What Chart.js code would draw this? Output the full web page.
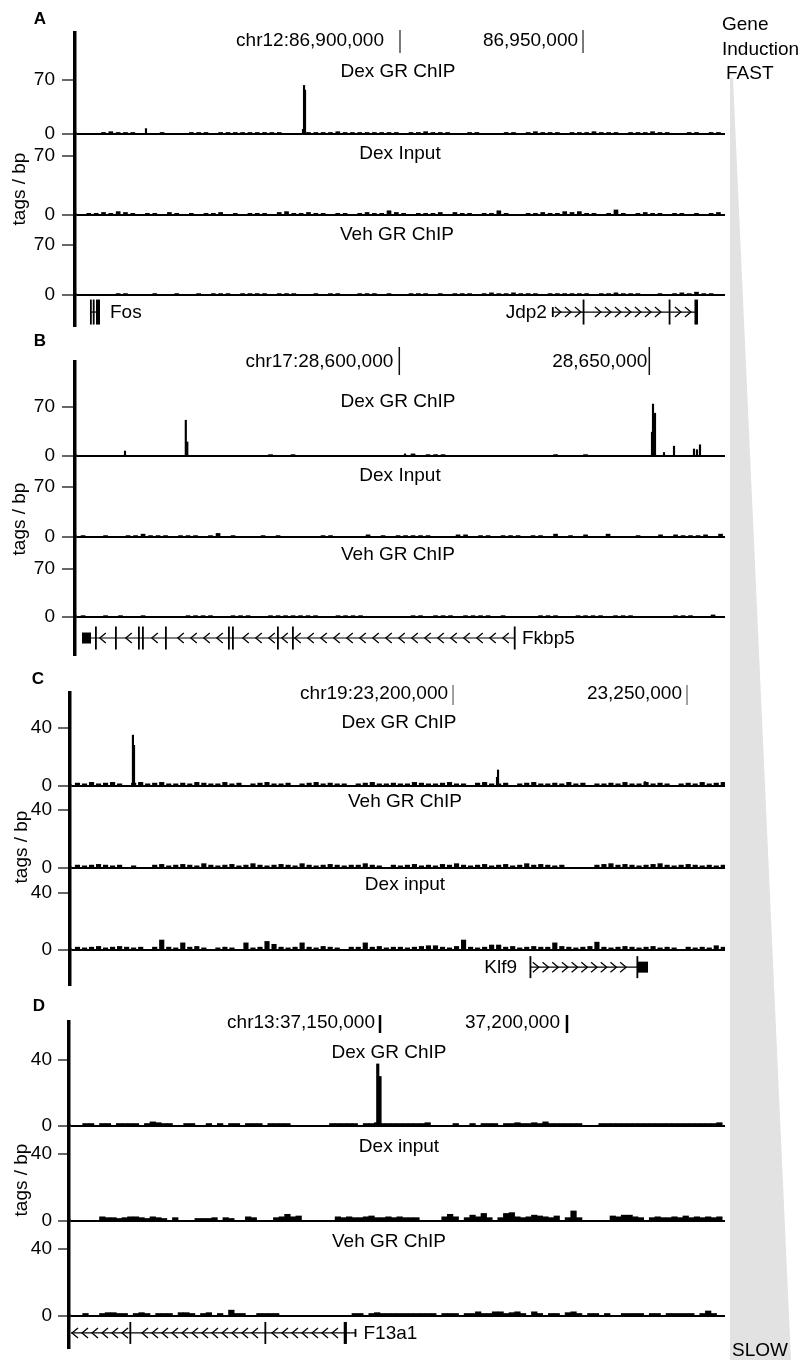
<!DOCTYPE html>
<html><head><meta charset="utf-8">
<script src="https://cdn.jsdelivr.net/npm/chart.js@4.4.1/dist/chart.umd.min.js"></script>
<style>
html,body{margin:0;padding:0;background:#fff;}
body{position:relative;width:804px;height:1360px;overflow:hidden;font-family:"Liberation Sans",Arial,sans-serif;color:#000;}
canvas{position:absolute;z-index:1;}
svg{position:absolute;left:0;top:0;z-index:0;}
.t{position:absolute;z-index:2;font-size:19px;line-height:19px;white-space:nowrap;transform:translate(-50%,-50%);}
.l{position:absolute;z-index:2;font-size:19px;line-height:19px;white-space:nowrap;transform:translate(0,-50%);}
.p{position:absolute;z-index:2;font-size:17px;font-weight:bold;line-height:17px;transform:translate(-50%,-50%);}
.yl{position:absolute;z-index:2;font-size:19px;line-height:19px;white-space:nowrap;transform:translate(-50%,-50%) rotate(-90deg);}
</style></head><body>
<svg width="804" height="1360"><polygon points="730,78 733,78 791,1360 730,1360" fill="#e2e2e2"/></svg>
<script>
// ================= DATA =================
// ---- Panel A : chr12 (Fos, Jdp2) ----
const A_trackNames = ['Dex GR ChIP', 'Dex Input', 'Veh GR ChIP'];
const A_yTicks = [0, 70];
const A_coordTicks = [86900000, 86950000];
const A_coordLabels = ['chr12:86,900,000', '86,950,000'];
const A_binStart = 86812000;
const A_binSize = 2000;
const A_dexGR = [0,0,0,2,3,2,2,2,0,0, 0,2,0,0,0,2,2,2,0,2, 2,2,2,2,2,2,2,2,0,0, 0,2,2,2,2,3,2,2,2,2, 2,2,2,2,0,2,2,3,2,2, 2,0,0,2,2,0,0,0,2,2, 0,2,3,2,2,2,0,2,2,2, 3,2,2,2,0,2,2,2,3,2, 2,0,0,2,2,0,2,2];
const A_dexInput = [0,2,2,3,2,4,3,2,0,2, 2,0,3,2,0,2,0,2,2,3, 0,2,0,2,2,2,0,3,4,2, 2,3,2,2,0,2,2,0,2,3, 2,2,5,3,2,0,2,2,2,3, 0,3,2,2,0,2,2,5,2,0, 0,2,2,3,2,2,4,3,4,2, 2,0,2,6,2,0,2,3,2,2, 0,2,2,0,2,0,2,3];
const A_vehGR = [0,0,0,0,0,2,2,0,0,0, 2,0,0,2,0,0,2,0,2,2, 2,0,2,2,2,2,0,2,2,2, 0,0,2,0,2,2,0,0,2,2, 2,0,2,0,0,2,2,2,0,2, 0,2,2,2,0,2,3,2,2,3, 2,2,2,0,2,2,2,2,2,2, 0,2,2,3,2,2,2,0,0,2, 0,2,3,2,4,2,2,0];
const A_dexGRPeaks = [[86830600, 7], [86873500, 6], [86873780, 63], [86874050, 57]];
const A_dexInputPeaks = [];
const A_vehGRPeaks = [];
const A_genes = [
  {name: 'Fos', strand: '+', start: 86815300, end: 86818040,
   exons: [[86815300, 86815580, 'e'], [86816070, 86816340, 'e'], [86816950, 86818040, 'e']]},
  {name: 'Jdp2', strand: '+', start: 86941500, end: 86981410,
   exons: [[86941500, 86941780, 'u'], [86949900, 86950180, 'e'], [86973400, 86973680, 'e'], [86980450, 86981410, 'e']]}
];

// ---- Panel B : chr17 (Fkbp5) ----
const B_trackNames = ['Dex GR ChIP', 'Dex Input', 'Veh GR ChIP'];
const B_yTicks = [0, 70];
const B_coordTicks = [28600000, 28650000];
const B_coordLabels = ['chr17:28,600,000', '28,650,000'];
const B_binStart = 28536000;
const B_binSize = 1500;
const B_dexGR = [0,0,0,0,0,0,0,0,0,0, 0,0,0,0,0,0,0,0,0,0, 0,0,0,0,0,2,0,0,2,0, 0,0,0,0,0,0,0,0,0,0, 0,0,0,0,3,0,2,2,2,0, 0,0,0,0,0,0,0,0,0,0, 0,0,0,2,0,0,0,2,0,0, 0,0,0,0,0,0,0,0,0,0, 0,0,0,0,0,0];
const B_dexInput = [2,0,0,2,0,0,2,2,4,2, 2,2,0,2,2,2,0,2,5,0, 2,0,0,0,2,0,2,0,0,0, 0,0,2,2,0,0,0,0,3,0, 2,0,2,2,2,2,2,0,0,0, 3,3,0,2,2,0,2,2,2,0, 2,2,0,4,0,2,0,3,0,0, 4,0,0,0,2,0,0,3,0,3, 2,2,2,3,0,4];
const B_vehGR = [2,0,0,2,0,2,0,0,2,0, 0,0,0,0,2,2,2,2,0,0, 2,2,2,0,0,2,2,2,2,2, 2,2,0,0,2,2,2,2,0,0, 0,0,0,0,2,2,0,2,2,2, 0,2,2,2,2,0,2,0,0,0, 0,2,2,2,0,0,2,2,2,2, 0,2,2,2,0,0,0,0,0,2, 2,2,0,0,3,0];
const B_dexGRPeaks = [[28545140, 7], [28557300, 51], [28557600, 20], [28601140, 3], [28650540, 34], [28650740, 74], [28651140, 61], [28652940, 5], [28654940, 14], [28658940, 10], [28659540, 9], [28660140, 16]];
const B_dexInputPeaks = [];
const B_vehGRPeaks = [];
const B_genes = [
  {name: 'Fkbp5', strand: '-', start: 28536540, end: 28623140,
   exons: [[28536540, 28538340, 'u'], [28539140, 28539440, 'e'], [28543140, 28543440, 'e'], [28547740, 28548040, 'e'], [28548540, 28548840, 'e'], [28553140, 28553440, 'e'], [28565740, 28566040, 'e'], [28566540, 28566840, 'e'], [28575540, 28575840, 'e'], [28578540, 28578840, 'e'], [28622900, 28623200, 'e']]}
];

// ---- Panel C : chr19 (Klf9) ----
const C_trackNames = ['Dex GR ChIP', 'Veh GR ChIP', 'Dex input'];
const C_yTicks = [0, 40];
const C_coordTicks = [23200000, 23250000];
const C_coordLabels = ['chr19:23,200,000', '23,250,000'];
const C_binStart = 23119000;
const C_binSize = 1500;
const C_dexGR = [2,1.5,2.5,1.5,2,2.5,1.5,0,2,2.5, 1.5,2,2.5,1.5,1.5,2,1.5,2.5,2,1.5, 1.5,2.5,1.5,2,0,1.5,2,2.5,1.5,1.5, 2,0,1.5,2,2.5,1.5,2,1.5,1.5,0, 1.5,2,2.5,1.5,1.5,2,1.5,1.5,2.5,2, 1.5,1.5,2,2.5,1.5,1.5,0,2,2.5,1.5, 1.5,2,0,1.5,2,2.5,1.5,1.5,2,1.5, 2.5,1.5,2,0,1.5,1.5,2,1.5,2.5,1.5, 1.5,2.5,1.5,2,1.5,0,1.5,2,1.5,2.5, 1.5,2,2.5];
const C_vehGR = [2,1.5,2,2.5,2,1.5,2,0,1.5,0, 0,2,2.5,1.5,2,2.5,2,1.5,3,2, 1.5,2,2.5,1.5,2,3,2,1.5,2,2.5, 2,1.5,3,2,1.5,2,2.5,2,1.5,2, 2,3,2,1.5,0,2,1.5,2,2.5,1.5, 2,1.5,2.5,2,3,2,1.5,2,2.5,1.5, 2,2.5,1.5,2,3,2,2.5,2,1.5,2, 0,0,0,0,2,2.5,3,2,2.5,2, 1.5,2,2.5,3,2,1.5,2,2.5,2,1.5, 2,1.5,2];
const C_dexInput = [2,1.5,2,2.5,1.5,2,2.5,2,1.5,2, 0,2,7,2,1.5,5,2,2.5,1.5,0, 1.5,2,1.5,0,5,1.5,2,6,4,2, 1.5,2,5,2,1.5,2.5,2,1.5,0,2, 2,5,2,2.5,1.5,2,2,1.5,2,2.5, 3,3,2,1.5,2.5,7,2,1.5,2,3.5, 3.5,2,2.5,1.5,2,2.5,2,2,5,2.5, 2,1.5,2,2.5,5.5,2,1.5,2,2.5,2, 1.5,2,2.5,1.5,2,1.5,0,2,1.5,2, 1.5,3,2];
const C_dexGRPeaks = [[23131600, 35], [23131830, 28], [23209400, 6], [23209620, 11], [23241030, 3]];
const C_vehGRPeaks = [];
const C_dexInputPeaks = [];
const C_genes = [
  {name: 'Klf9', strand: '+', start: 23216450, end: 23241670,
   exons: [[23216350, 23216700, 'e'], [23239200, 23239500, 'e'], [23239400, 23241670, 'u']]}
];

// ---- Panel D : chr13 (F13a1) ----
const D_trackNames = ['Dex GR ChIP', 'Dex input', 'Veh GR ChIP'];
const D_yTicks = [0, 40];
const D_coordTicks = [37150000, 37200000];
const D_coordLabels = ['chr13:37,150,000', '37,200,000'];
const D_binStart = 37067500;
const D_binSize = 1500;
const D_dexGR = [0,0,1.5,1.5,0,1.5,1.5,0,1.5,1.5, 1.5,1.5,0,1.5,2.5,2,1.5,1.5,0,0, 1.5,1.5,0,0,1.5,0,1.5,0,1.5,1.5, 0,1.5,1.5,1.5,0,1.5,1.5,1.5,1.5,0, 0,0,0,0,0,0,1.5,1.5,1.5,1.5, 1.5,0,1.5,1.5,2,1.5,1.5,1.5,1.5,1.5, 1.5,1.5,1.5,2,0,0,0,0,1.5,0, 0,1.5,0,1.5,1.5,1.5,0,1.5,1.5,2, 1.5,1.5,2,1.5,2.5,1.5,1.5,1.5,1.5,1.5, 1.5,0,0,0,1.5,1.5,1.5,1.5,1.5,1.5, 1.5,1.5,1.5,1.5,1.5,1.5,1.5,1.5,1.5,1.5, 1.5,1.5,1.5,1.5,1.5,2];
const D_dexInput = [0,0,0,0,0,2.5,2,2,1.5,2, 2.5,2.5,2,1.5,2.5,2,1.5,0,2,0, 0,0,1.5,1.5,1.5,2,0,2,1.5,0, 0,2.5,2,0,0,0,2,2.5,4,2.5, 3,0,0,0,0,0,0,2.5,2,2.5, 2,2,2.5,3,2,2,2.5,2,2.5,2, 2,2,0,0,0,0,2.5,4,2.5,0, 2,3.5,2.5,4.5,2,0,2,4.5,5,2.5, 2,2.5,3.5,3,2.5,2,3,0,2,6, 2,0,0,0,0,0,3,2.5,3.5,3.5, 2.5,2,0,2,2.5,2,2,2.5,2,3, 2,2.5,2,2.5,2,2.5];
const D_vehGR = [0,0,1.5,0,0,1.5,2,2,1.5,1.5, 0,1.5,2,1.5,0,1.5,1.5,1.5,0,2, 2,1.5,0,1.5,2,0,1.5,0,3.5,1.5, 1.5,0,0,1.5,1.5,1.5,1.5,0,0,0, 0,0,0,0,0,0,0,0,0,0, 1.5,1.5,0,1.5,2,1.5,1.5,1.5,1.5,1.5, 1.5,1.5,1.5,1.5,1.5,0,1.5,1.5,1.5,0, 1.5,1.5,2.5,1.5,1.5,2.5,2.5,1.5,2,2.5, 1.5,0,2.5,1.5,0,1.5,1.5,0,2,2.5, 1.5,0,1.5,1.5,0,1.5,0,0,1.5,1.5, 1.5,1.5,0,1.5,1.5,0,1.5,1.5,1.5,1.5, 1.5,0,1.5,3,1.5,0];
const D_dexGRPeaks = [[37149400, 37.6], [37150000, 30]];
const D_dexInputPeaks = [];
const D_vehGRPeaks = [];
const D_genes = [
  {name: 'F13a1', strand: '-', start: 37050000, end: 37143450,
   exons: [[37083000, 37083350, 'e'], [37119100, 37119450, 'e'], [37140300, 37141150, 'e'], [37143200, 37143450, 'u']]}
];

// ================= LAYOUT / STYLE =================
const FONT = '"Liberation Sans", Arial, sans-serif';
const layoutA = {letter:'A', letterPos:[40,18], axisX:75, right:725, xRange:[86811210,86988790],
  tracks:[[33,134,131],[134,215,96],[215,295,112]], gene:[295,326], rowFrac:0.45, eH:25, uH:10, chev:10,
  tickLen:13, tickPad:7, head:{y:41,l1:30,l2:53,lw:1.2,color:'#222',gaps:[16,5]},
  labels:[[398,70],[400,152],[397,233]], ylab:[18,189], binPx:4, peakPx:1.5, geneSide:['right','left'], geneGap:[10,5]};
const layoutB = {letter:'B', letterPos:[40,340], axisX:75, right:725, xRange:[28535140,28665140],
  tracks:[[362,456,134],[456,537,113],[537,617,117]], gene:[617,655], rowFrac:0.447, eH:23, uH:11, chev:13,
  tickLen:13, tickPad:7, head:{y:362,l1:347,l2:375,lw:1.5,color:'#111',gaps:[6,2]},
  labels:[[398,400],[400,474],[398,553]], ylab:[18,519], binPx:4, peakPx:1.5, geneSide:['right'], geneGap:[7]};
const layoutC = {letter:'C', letterPos:[38,678], axisX:70, right:725, xRange:[23118150,23258120],
  tracks:[[693,786,64],[786,868,56.6],[868,950,57.5]], gene:[950,985], rowFrac:0.51, eH:22, uH:11, chev:9.7,
  tickLen:12, tickPad:6, head:{y:694,l1:685,l2:705,lw:1,color:'#444',gaps:[5,5]},
  labels:[[399,721],[405,800],[405,883]], ylab:[20,847], binPx:4.5, peakPx:1.5, geneSide:['left'], geneGap:[13]};
const layoutD = {letter:'D', letterPos:[39,1005], axisX:69, right:725, xRange:[37066840,37242250],
  tracks:[[1022,1126,63],[1126,1221,56.7],[1221,1316,56.7]], gene:[1316,1348], rowFrac:0.47, eH:22, uH:8, chev:10,
  tickLen:11, tickPad:6, head:{y:1023,l1:1015,l2:1033,lw:2.5,color:'#000',gaps:[5,7]},
  labels:[[389,1051],[399,1145],[389,1240]], ylab:[20,1180], binPx:5.6, peakPx:2.5, geneSide:['right'], geneGap:[8]};

const PANELS = [
  {L: layoutA, names: A_trackNames, yTicks: A_yTicks, coordTicks: A_coordTicks, coordLabels: A_coordLabels,
   binStart: A_binStart, binSize: A_binSize, series: [[A_dexGR, A_dexGRPeaks], [A_dexInput, A_dexInputPeaks], [A_vehGR, A_vehGRPeaks]], genes: A_genes},
  {L: layoutB, names: B_trackNames, yTicks: B_yTicks, coordTicks: B_coordTicks, coordLabels: B_coordLabels,
   binStart: B_binStart, binSize: B_binSize, series: [[B_dexGR, B_dexGRPeaks], [B_dexInput, B_dexInputPeaks], [B_vehGR, B_vehGRPeaks]], genes: B_genes},
  {L: layoutC, names: C_trackNames, yTicks: C_yTicks, coordTicks: C_coordTicks, coordLabels: C_coordLabels,
   binStart: C_binStart, binSize: C_binSize, series: [[C_dexGR, C_dexGRPeaks], [C_vehGR, C_vehGRPeaks], [C_dexInput, C_dexInputPeaks]], genes: C_genes},
  {L: layoutD, names: D_trackNames, yTicks: D_yTicks, coordTicks: D_coordTicks, coordLabels: D_coordLabels,
   binStart: D_binStart, binSize: D_binSize, series: [[D_dexGR, D_dexGRPeaks], [D_dexInput, D_dexInputPeaks], [D_vehGR, D_vehGRPeaks]], genes: D_genes}
];

// ================= RENDER =================
Chart.defaults.font.family = FONT;
Chart.defaults.color = '#000';
const PAD_R = 10;

function addText(cls, txt, x, y) {
  const d = document.createElement('div');
  d.className = cls; d.textContent = txt;
  d.style.left = x + 'px'; d.style.top = y + 'px';
  document.body.appendChild(d);
}
function mkCanvas(top, w, h) {
  const cv = document.createElement('canvas');
  cv.width = w; cv.height = h;
  cv.style.left = '0px'; cv.style.top = top + 'px';
  cv.style.width = w + 'px'; cv.style.height = h + 'px';
  document.body.appendChild(cv);
  return cv;
}
function headerPlugin(ticks, labels, h, canvasTop) {
  return {id: 'hdr', afterDraw(chart) {
    const ctx = chart.ctx, xs = chart.scales.x;
    ctx.save();
    ctx.font = '19px ' + FONT; ctx.fillStyle = '#000';
    ctx.textAlign = 'right'; ctx.textBaseline = 'middle';
    ticks.forEach((v, i) => {
      const px = xs.getPixelForValue(v);
      ctx.strokeStyle = h.color; ctx.lineWidth = h.lw;
      ctx.beginPath(); ctx.moveTo(px, h.l1 - canvasTop); ctx.lineTo(px, h.l2 - canvasTop); ctx.stroke();
      ctx.fillText(labels[i], px - h.gaps[i], h.y - canvasTop);
    });
    ctx.restore();
  }};
}
function genePlugin(genes, L) {
  return {id: 'gene', afterDraw(chart) {
    const ctx = chart.ctx, ca = chart.chartArea, xs = chart.scales.x, ys = chart.scales.y;
    const yc = ys.getPixelForValue(L.rowFrac);
    ctx.save();
    ctx.beginPath(); ctx.rect(ca.left + 2, 0, chart.width - ca.left - 2, chart.height); ctx.clip();
    ctx.fillStyle = '#000'; ctx.strokeStyle = '#000';
    genes.forEach((g, gi) => {
      const x0 = xs.getPixelForValue(g.start), x1 = xs.getPixelForValue(g.end);
      ctx.lineWidth = 1.2;
      ctx.beginPath(); ctx.moveTo(x0, yc); ctx.lineTo(x1, yc); ctx.stroke();
      const ex = g.exons.map(e => {
        const a = xs.getPixelForValue(e[0]), b = xs.getPixelForValue(e[1]);
        return [a, Math.max(b, a + 1.8), e[2]];
      });
      ctx.lineWidth = 1.3;
      const d = g.strand === '+' ? 1 : -1;
      for (let p = Math.max(x0, ca.left) + L.chev * 0.6; p < x1 - 3; p += L.chev) {
        if (ex.some(e => p > e[0] - 4 && p < e[1] + 4)) continue;
        ctx.beginPath();
        ctx.moveTo(p - 3 * d, yc - 5); ctx.lineTo(p + 3 * d, yc); ctx.lineTo(p - 3 * d, yc + 5);
        ctx.stroke();
      }
      ex.forEach(e => {
        const hh = e[2] === 'u' ? L.uH : L.eH;
        ctx.fillRect(e[0], yc - hh / 2, e[1] - e[0], hh);
      });
      ctx.font = '19px ' + FONT; ctx.textBaseline = 'middle';
      if (L.geneSide[gi] === 'right') { ctx.textAlign = 'left'; ctx.fillText(g.name, x1 + L.geneGap[gi], yc + 1); }
      else { ctx.textAlign = 'right'; ctx.fillText(g.name, x0 - L.geneGap[gi], yc + 1); }
    });
    ctx.restore();
  }};
}

PANELS.forEach(P => {
  const L = P.L;
  const W = L.right + PAD_R;
  addText('p', L.letter, L.letterPos[0], L.letterPos[1]);
  addText('yl', 'tags / bp', L.ylab[0], L.ylab[1]);
  L.tracks.forEach((t, ti) => {
    const [top, bottom, yMax] = t;
    const padTop = ti === 0 ? 40 : 24, padBottom = 24;
    const cTop = top - padTop;
    const cv = mkCanvas(cTop, W, bottom - top + padTop + padBottom);
    const bins = P.series[ti][0], peaks = P.series[ti][1];
    const plugins = [];
    if (ti === 0) plugins.push(headerPlugin(P.coordTicks, P.coordLabels, L.head, cTop));
    new Chart(cv, {
      type: 'bar',
      data: {datasets: [
        {data: bins.map((v, i) => ({x: P.binStart + i * P.binSize + P.binSize / 2, y: v})),
         backgroundColor: '#000', borderWidth: 0, barThickness: L.binPx},
        {data: peaks.map(p => ({x: p[0], y: p[1]})),
         backgroundColor: '#000', borderWidth: 0, barThickness: L.peakPx}
      ]},
      options: {
        responsive: false, animation: false, devicePixelRatio: 1,
        layout: {padding: {top: padTop, bottom: padBottom, left: 0, right: PAD_R}},
        plugins: {legend: {display: false}, tooltip: {enabled: false}},
        scales: {
          x: {type: 'linear', min: L.xRange[0], max: L.xRange[1], offset: false, stacked: true, display: false},
          y: {type: 'linear', min: 0, max: yMax, position: 'left',
            afterFit: s => { s.width = L.axisX; s.paddingTop = 0; s.paddingBottom = 0; },
            afterBuildTicks: s => { s.ticks = P.yTicks.map(v => ({value: v})); },
            ticks: {color: '#000', font: {size: 19, family: FONT}, padding: L.tickPad, autoSkip: false},
            grid: {drawOnChartArea: true, lineWidth: 2, tickLength: L.tickLen, tickWidth: 1.2, tickColor: '#000',
                   color: c => (c.tick && c.tick.value === 0) ? '#000' : 'rgba(0,0,0,0)'},
            border: {display: true, color: '#000', width: 3.5}
          }
        }
      },
      plugins: plugins
    });
    addText('t', P.names[ti], L.labels[ti][0], L.labels[ti][1]);
  });
  // gene annotation track
  const gTop = L.gene[0], gBot = L.gene[1], gp = 30;
  const gcv = mkCanvas(gTop - gp, W, gBot - gTop + 2 * gp);
  new Chart(gcv, {
    type: 'scatter',
    data: {datasets: [{data: []}]},
    options: {
      responsive: false, animation: false, devicePixelRatio: 1,
      layout: {padding: {top: gp, bottom: gp, left: 0, right: PAD_R}},
      plugins: {legend: {display: false}, tooltip: {enabled: false}},
      scales: {
        x: {type: 'linear', min: L.xRange[0], max: L.xRange[1], display: false},
        y: {type: 'linear', min: 0, max: 1, position: 'left',
            afterFit: s => { s.width = L.axisX; s.paddingTop = 0; s.paddingBottom = 0; },
            ticks: {display: false}, grid: {display: false, drawTicks: false},
            border: {display: true, color: '#000', width: 3.5}}
      }
    },
    plugins: [genePlugin(P.genes, L)]
  });
});

addText('l', 'Gene', 722, 23);
addText('l', 'Induction', 722, 48);
addText('l', 'FAST', 726, 72);
addText('l', 'SLOW', 732, 1349);
</script>
</body></html>
